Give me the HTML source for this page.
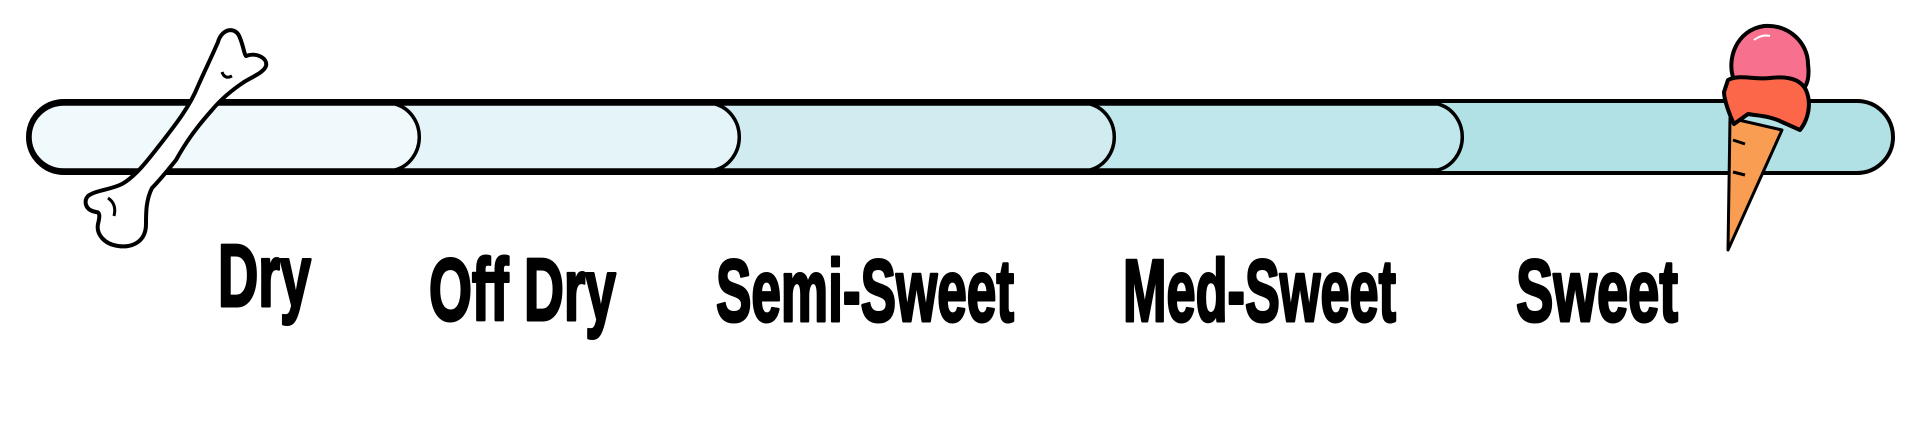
<!DOCTYPE html>
<html><head><meta charset="utf-8"><style>
html,body{margin:0;padding:0;background:#fff;width:1920px;height:426px;overflow:hidden}
svg{display:block}
text{font-family:"Liberation Sans Narrow","Liberation Sans",sans-serif;font-weight:bold;fill:#000;stroke:#000;stroke-width:3;stroke-linejoin:round}
</style></head><body>
<svg width="1920" height="426" viewBox="0 0 1920 426" xmlns="http://www.w3.org/2000/svg">
<rect x="28" y="101" width="1865" height="72" rx="36" ry="36" fill="#b2e1e5" stroke="#000" stroke-width="4"/>
<path d="M64 104 H1438 A32 34 0 0 1 1438 170 H64 Z" fill="#c0e7eb" stroke="#000" stroke-width="3.5"/>
<path d="M64 104 H1090 A32 34 0 0 1 1090 170 H64 Z" fill="#d0ecf0" stroke="#000" stroke-width="3.5"/>
<path d="M64 104 H715 A32 34 0 0 1 715 170 H64 Z" fill="#e4f4f8" stroke="#000" stroke-width="3.5"/>
<path d="M64 104 H395 A32 34 0 0 1 395 170 H64 A34 33 0 0 1 64 104 Z" fill="#f0f9fb" stroke="#000" stroke-width="3.5"/>
<path d="M218 42 C222 28 236 26 240 38 C244 48 244 54 246 56 C256 52 268 58 266 66 C264 72 254 76 244 82 C232 90 222 98 212 110 C196 128 186 142 176 160 C168 170 160 180 152 188 C146 200 146 212 146 224 C146 242 132 248 118 246 C104 244 96 234 98 224 C100 216 100 212 96 212 C84 210 84 200 88 196 C96 190 110 190 122 184 C136 176 148 160 162 142 C176 124 190 106 198 86 C206 68 212 56 218 42 Z" fill="#fff" stroke="#000" stroke-width="4" stroke-linejoin="round"/>
<path d="M222 72 c2 6 6 6 10 4" fill="none" stroke="#000" stroke-width="3"/>
<path d="M108 198 c6 4 8 10 6 18" fill="none" stroke="#000" stroke-width="3"/>
<path d="M1730 118 L1782 130 L1728 250 Z" fill="#f99d52" stroke="#000" stroke-width="3" stroke-linejoin="round"/>
<path d="M1733 140 l12 4 M1733 172 l12 3" stroke="#000" stroke-width="3"/>
<path d="M1734 80 C1726 60 1736 30 1764 26 C1790 24 1808 44 1808 64 C1810 80 1806 88 1800 92 L1736 92 Z" fill="#f7718f" stroke="#000" stroke-width="4"/>
<path d="M1754 40 q8 -6 16 -4" stroke="#fff" stroke-width="2" fill="none"/>
<path d="M1728 80 C1740 74 1756 80 1770 78 C1786 76 1800 78 1806 90 C1812 104 1808 120 1800 130 L1782 122 C1770 116 1760 116 1748 114 L1734 124 C1730 116 1724 100 1724 92 Z" fill="#fc674a" stroke="#000" stroke-width="4" stroke-linejoin="round"/>
<text x="218" y="306" font-size="88" textLength="93" lengthAdjust="spacingAndGlyphs">Dry</text>
<text x="429" y="320" font-size="88" textLength="187" lengthAdjust="spacingAndGlyphs">Off Dry</text>
<text x="716" y="321" font-size="88" textLength="298" lengthAdjust="spacingAndGlyphs">Semi-Sweet</text>
<text x="1123" y="321" font-size="88" textLength="273" lengthAdjust="spacingAndGlyphs">Med-Sweet</text>
<text x="1516" y="321" font-size="88" textLength="162" lengthAdjust="spacingAndGlyphs">Sweet</text>
</svg>
</body></html>
